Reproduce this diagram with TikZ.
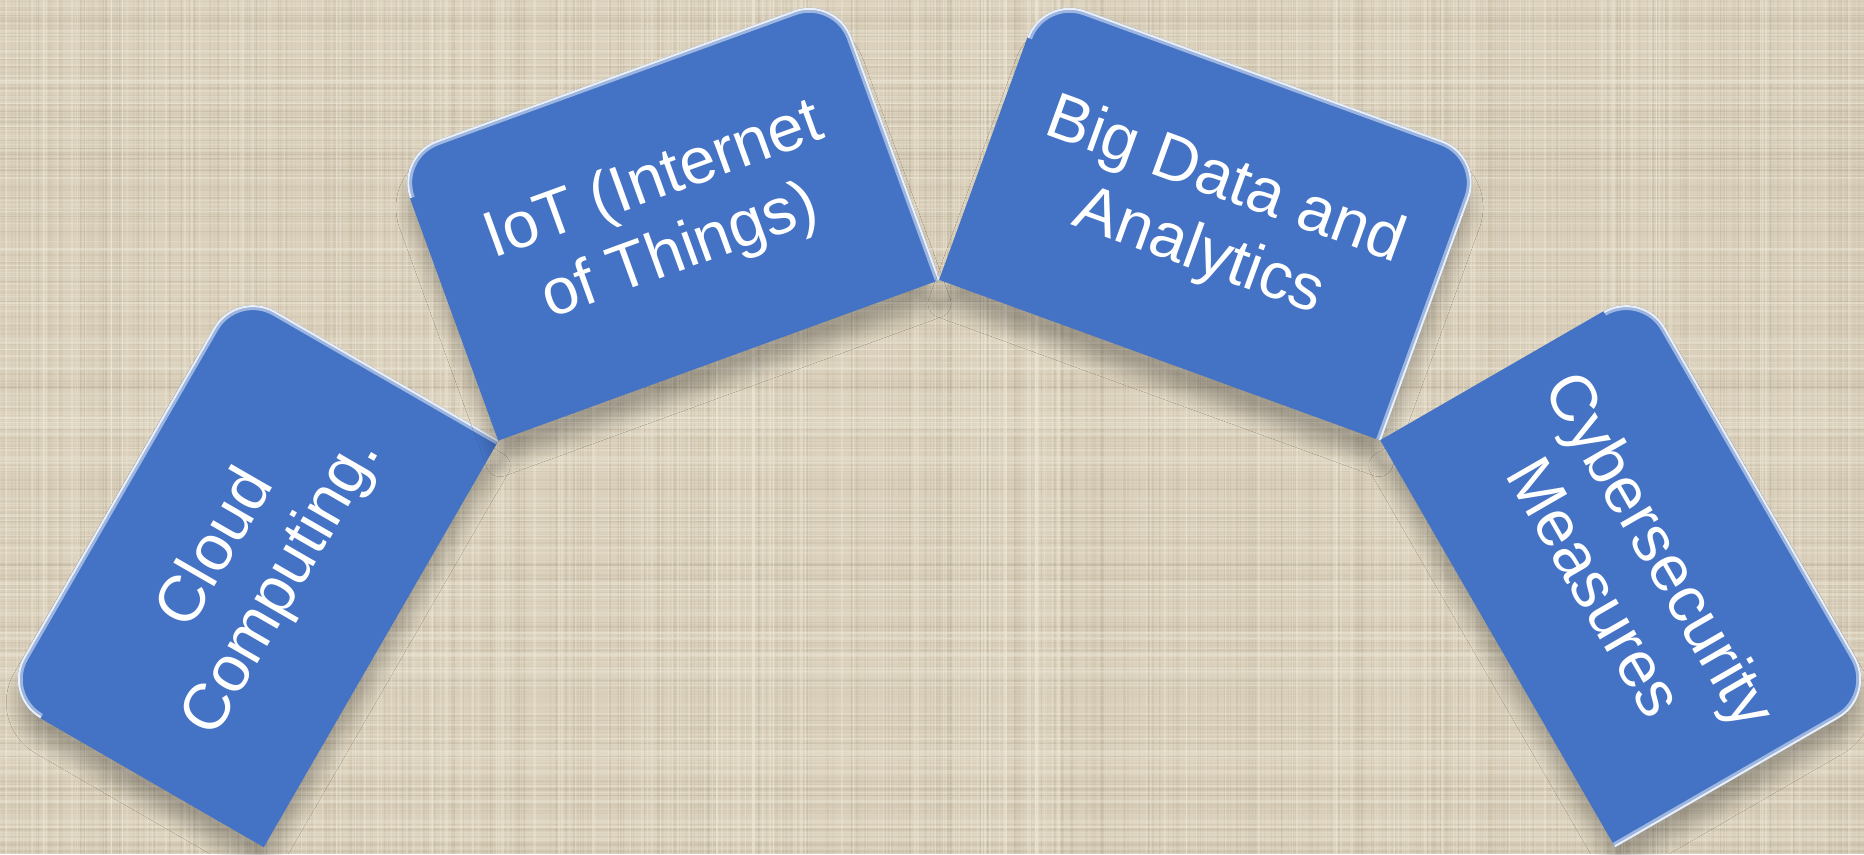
\documentclass[tikz,border=0pt]{standalone}
\usepackage{fontspec}
\setmainfont{Liberation Sans}
\usetikzlibrary{shadows.blur}

\definecolor{cardblue}{RGB}{68,114,196}
\definecolor{canvasbg}{RGB}{219,209,188}
\definecolor{canvasdark}{RGB}{150,138,114}
\definecolor{canvaslight}{RGB}{244,239,224}

\tikzset{
  card/.style={fill=cardblue, blur shadow={shadow xshift=0pt, shadow yshift=-7pt, shadow scale=0.99, shadow blur radius=4pt, shadow blur steps=12, shadow opacity=26}},
  bevel/.style={line width=2.8pt, draw=white!60!cardblue, opacity=0.8},
  glint/.style={line width=1.1pt, draw=white, opacity=0.8},
  cardtext/.style={transform shape, text=white, align=center, font=\fontsize{18.5}{21.5}\selectfont}
}

% card outline, inner edge on y=0, outer corners rounded
\newcommand{\cardpath}{(-2.35,0) -- (2.35,0) -- (2.35,2.58) arc[start angle=0,end angle=90,radius=0.45] -- (-1.90,3.03) arc[start angle=90,end angle=180,radius=0.45] -- cycle}
\newcommand{\bevelpath}{(-2.35,2.58) arc[start angle=180,end angle=90,radius=0.45] -- (1.90,3.03) arc[start angle=90,end angle=0,radius=0.45] -- (2.35,0)}

\begin{document}
\begin{tikzpicture}[x=1cm,y=1cm]
\useasboundingbox (0,0) rectangle (18.64,8.54);

% canvas background, fine weave
\fill[canvasbg] (0,0) rectangle (18.64,8.54);
\pgfmathsetseed{41}
\foreach \i in {1,...,700}{
  \pgfmathsetmacro\xx{rnd*18.64}
  \pgfmathsetmacro\ww{0.15+rnd*0.45}
  \pgfmathsetmacro\oo{0.03+rnd*0.09}
  \draw[canvasdark, line width=\ww pt, opacity=\oo] (\xx,0) -- (\xx,8.54);}
\foreach \i in {1,...,360}{
  \pgfmathsetmacro\yy{rnd*8.54}
  \pgfmathsetmacro\ww{0.15+rnd*0.45}
  \pgfmathsetmacro\oo{0.03+rnd*0.08}
  \draw[canvasdark, line width=\ww pt, opacity=\oo] (0,\yy) -- (18.64,\yy);}
\foreach \i in {1,...,260}{
  \pgfmathsetmacro\xx{rnd*18.64}
  \pgfmathsetmacro\yy{rnd*8.54}
  \draw[canvaslight, line width=0.4pt, opacity=0.3] (\xx,0) -- (\xx,8.54);
  \draw[canvaslight, line width=0.4pt, opacity=0.25] (0,\yy) -- (18.64,\yy);}

% four cards on an arc around (9.395,-1.12)
\foreach \rot/\nm/\txt in {60/cloud/{Cloud\\Computing.}, 20/iot/{IoT (Internet\\of Things)}, -20/bigdata/{Big Data and\\Analytics}, -60/cyber/{Cybersecurity\\Measures}}{
  \begin{scope}[shift={(9.395,-1.12)}, rotate=\rot, yshift=6.446cm]
    \fill[card] \cardpath;
    \begin{scope}
      \clip \cardpath;
      \draw[bevel] \bevelpath;
      \draw[glint] \bevelpath;
    \end{scope}
    \node[cardtext] (\nm) at (0,1.515) {\txt};
  \end{scope}}
\end{tikzpicture}
\end{document}
